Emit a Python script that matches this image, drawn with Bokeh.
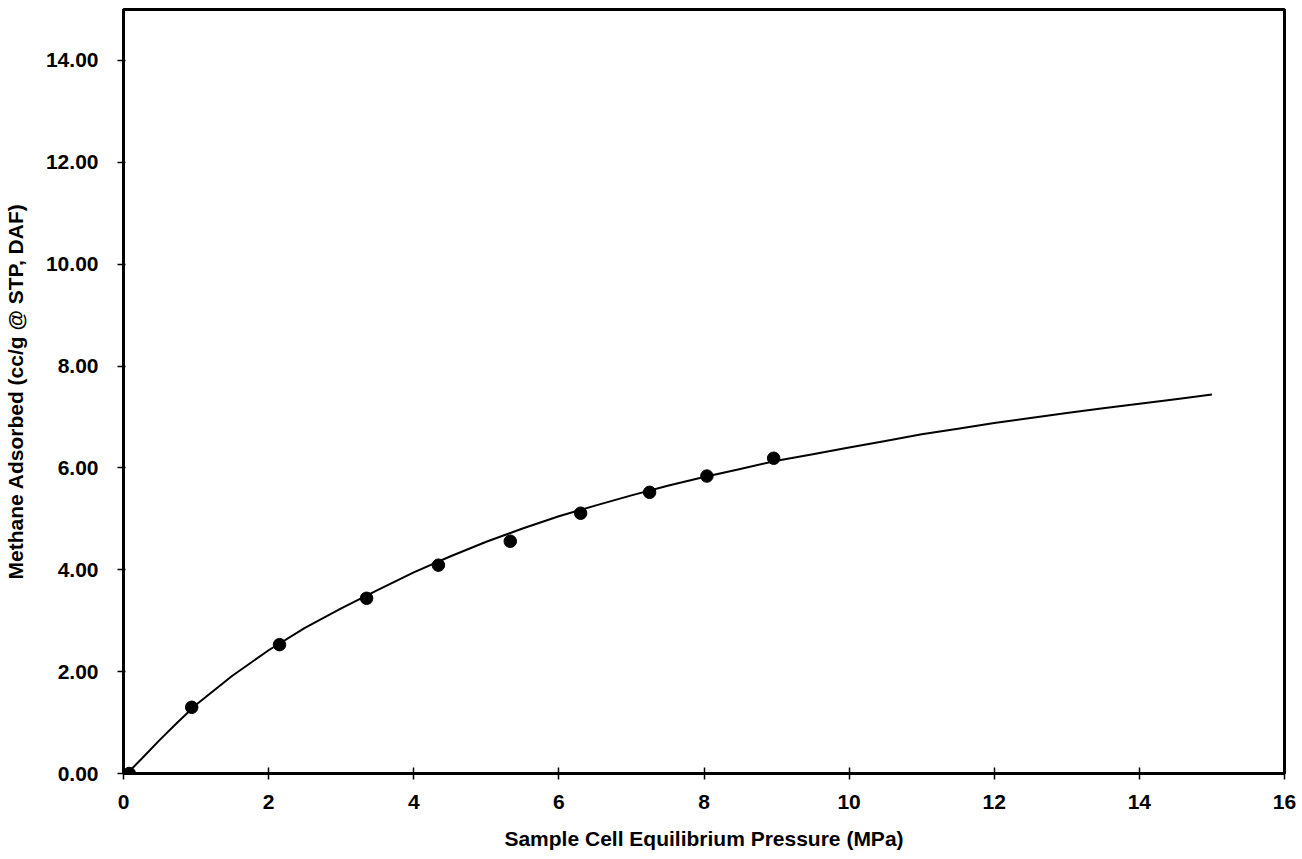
from bokeh.plotting import figure
from bokeh.models import Range1d, FixedTicker, PrintfTickFormatter
from bokeh.embed import file_html
from bokeh.resources import INLINE

# measured data points
pressure = [0.08, 0.94, 2.15, 3.35, 4.34, 5.33, 6.30, 7.25, 8.04, 8.96]
adsorbed = [0.00, 1.30, 2.53, 3.44, 4.09, 4.56, 5.11, 5.52, 5.84, 6.19]

# fitted curve
curve_p = [0.05, 0.25, 0.5, 0.75, 1.0, 1.5, 2.0, 2.5, 3.0, 3.5, 4.0, 4.5, 5.0,
           5.5, 6.0, 6.5, 7.0, 7.5, 8.0, 8.5, 9.0, 9.5, 10.0, 10.5, 11.0,
           11.5, 12.0, 12.5, 13.0, 13.5, 14.0, 14.5, 15.0]
curve_v = [0.00, 0.29, 0.66, 1.01, 1.35, 1.92, 2.42, 2.86, 3.24, 3.60, 3.95,
           4.26, 4.55, 4.81, 5.05, 5.26, 5.46, 5.65, 5.82, 5.98, 6.14, 6.27,
           6.40, 6.53, 6.66, 6.77, 6.88, 6.98, 7.08, 7.17, 7.26, 7.35, 7.44]

x_ticks = [0, 2, 4, 6, 8, 10, 12, 14, 16]
y_ticks = [0, 2, 4, 6, 8, 10, 12, 14]

FONT = "Liberation Sans"

p = figure(width=1302, height=859, output_backend="svg", toolbar_location=None,
           x_range=Range1d(0, 16), y_range=Range1d(0, 15),
           min_border_left=122, min_border_right=18, min_border_top=9,
           min_border_bottom=86)

p.line(curve_p, curve_v, line_color="black", line_width=2)
p.scatter(pressure, adsorbed, size=12.5, fill_color="black", line_color="black")

p.xgrid.visible = False
p.ygrid.visible = False
p.outline_line_color = "black"
p.outline_line_width = 3
p.background_fill_color = "white"
p.border_fill_color = "white"

p.xaxis.ticker = FixedTicker(ticks=x_ticks)
p.yaxis.ticker = FixedTicker(ticks=y_ticks)
p.yaxis.formatter = PrintfTickFormatter(format="%.2f")

for ax in (p.xaxis[0], p.yaxis[0]):
    ax.axis_line_color = "black"
    ax.axis_line_width = 2.5
    ax.major_tick_line_color = "black"
    ax.major_tick_line_width = 1.5
    ax.minor_tick_line_color = None
    ax.major_label_text_font = FONT
    ax.major_label_text_font_style = "bold"
    ax.major_label_text_font_size = "21px"
    ax.major_label_text_color = "black"
    ax.axis_label_text_font = FONT
    ax.axis_label_text_font_style = "bold"
    ax.axis_label_text_font_size = "21px"
    ax.axis_label_text_color = "black"

p.xaxis.major_tick_out = 6
p.xaxis.major_tick_in = 6
p.yaxis.major_tick_out = 6
p.yaxis.major_tick_in = 2
p.xaxis.major_label_standoff = 15
p.yaxis.major_label_standoff = 19
p.xaxis.axis_label_standoff = 15
p.yaxis.axis_label_standoff = 16

p.xaxis.axis_label = "Sample Cell Equilibrium Pressure (MPa)"
p.yaxis.axis_label = "Methane Adsorbed (cc/g @ STP, DAF)"

open("out.html", "w").write(file_html(p, INLINE))
